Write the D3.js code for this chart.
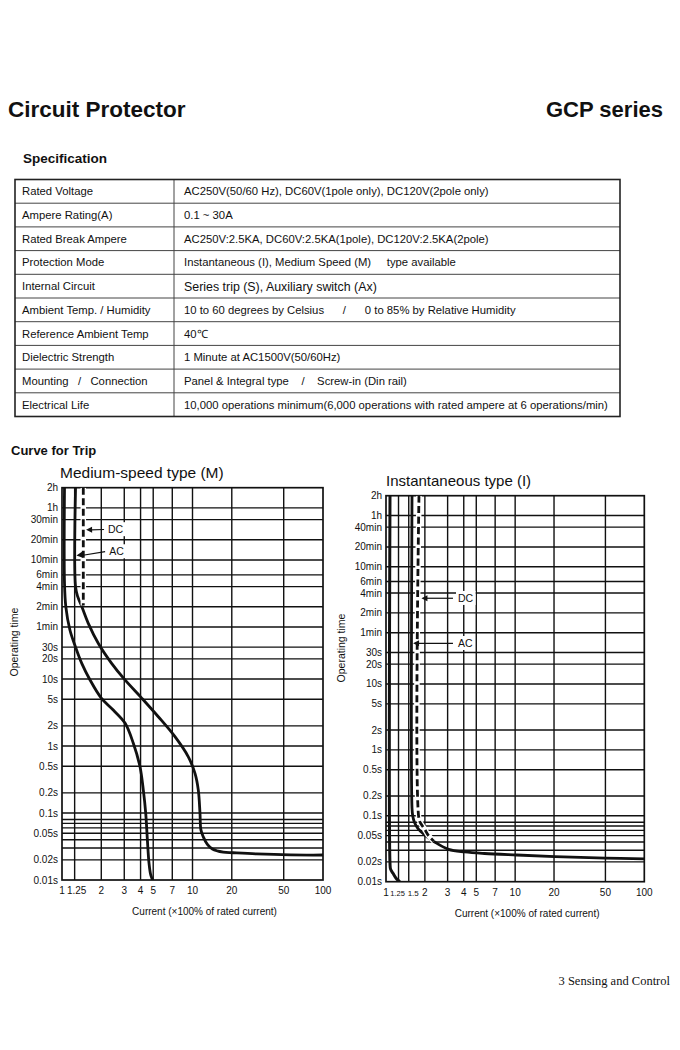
<!DOCTYPE html>
<html>
<head>
<meta charset="utf-8">
<script src="https://cdn.jsdelivr.net/npm/d3@7"></script>
<style>
body { margin: 0; background: #fff; }
text { font-family: "Liberation Sans", Arial, sans-serif; fill: #111; }
</style>
</head>
<body>
<div id="canvas"></div>
<script>
// ---- spec table ----
const specLabels = ["Rated Voltage", "Ampere Rating(A)", "Rated Break Ampere", "Protection Mode",
    "Internal Circuit", "Ambient Temp. / Humidity", "Reference Ambient Temp", "Dielectric Strength",
    "Mounting   /   Connection", "Electrical Life"];
const specValues = ["AC250V(50/60 Hz), DC60V(1pole only), DC120V(2pole only)",
    "0.1 ~ 30A",
    "AC250V:2.5KA, DC60V:2.5KA(1pole), DC120V:2.5KA(2pole)",
    "Instantaneous (I), Medium Speed (M)     type available",
    "Series trip (S), Auxiliary switch (Ax)",
    "10 to 60 degrees by Celsius      /      0 to 85% by Relative Humidity",
    "40\u2103",
    "1 Minute at AC1500V(50/60Hz)",
    "Panel & Integral type    /    Screw-in (Din rail)",
    "10,000 operations minimum(6,000 operations with rated ampere at 6 operations/min)"];

// ---- trip curve axes (seconds, x rated current) ----
const yTickSec = [7200, 3600, 2400, 1200, 600, 360, 240, 120, 60, 30, 20, 10, 5, 2, 1, 0.5, 0.2, 0.1, 0.05, 0.02, 0.01];
const yLabelsMed = ["2h", "1h", "30min", "20min", "10min", "6min", "4min", "2min", "1min", "30s", "20s", "10s", "5s", "2s", "1s", "0.5s", "0.2s", "0.1s", "0.05s", "0.02s", "0.01s"];
const yLabelsInst = ["2h", "1h", "40min", "20min", "10min", "6min", "4min", "2min", "1min", "30s", "20s", "10s", "5s", "2s", "1s", "0.5s", "0.2s", "0.1s", "0.05s", "0.02s", "0.01s"];
const yMinorSec = [0.08, 0.07, 0.06, 0.04, 0.03];
const xTicksMed = [1, 1.25, 2, 3, 4, 5, 7, 10, 20, 50, 100];
const xTicksInst = [1, 1.25, 1.5, 2, 3, 4, 5, 7, 10, 20, 50, 100];

// medium-speed curves [current, seconds]
const medLower = [[1.045, 7200], [1.045, 270], [1.07, 120], [1.15, 54], [1.27, 30], [1.42, 17], [1.64, 9.7],
    [2.0, 5.2], [2.47, 3.45], [3.04, 2.2], [3.52, 1.1], [3.96, 0.49], [4.2, 0.22], [4.38, 0.1],
    [4.51, 0.04], [4.64, 0.018], [4.78, 0.012], [4.95, 0.01]];
const medAC = [[1.27, 7200], [1.27, 240], [1.32, 170], [1.42, 120], [1.59, 68], [1.9, 34], [2.4, 17.2],
    [3.04, 9.7], [4.08, 5.2], [5.47, 2.74], [7.34, 1.38], [9.29, 0.69], [10.45, 0.39], [11.08, 0.22],
    [11.41, 0.1], [11.6, 0.056], [12.1, 0.044], [13, 0.034], [14.2, 0.029], [17.2, 0.026],
    [20.5, 0.0255], [31, 0.0245], [56, 0.0237], [100, 0.0236]];
const medDC = [[1.456, 7200], [1.456, 125]];

// instantaneous curves
const instLower = [[1.074, 7200], [1.074, 0.019], [1.085, 0.0155], [1.133, 0.0134], [1.2, 0.0112], [1.28, 0.01]];
const instAC = [[1.59, 7200], [1.59, 0.13], [1.61, 0.1], [1.66, 0.08], [1.76, 0.065], [2.0, 0.051],
    [2.38, 0.04], [3.05, 0.031], [4.07, 0.0283], [5.8, 0.0268], [10.3, 0.0254], [20.3, 0.024],
    [50, 0.0228], [100, 0.0222]];
const instDC = [[1.8, 7200], [1.8, 0.09], [1.87, 0.075], [2.0, 0.062], [2.12, 0.051], [2.35, 0.041]];

const svg = d3.select("#canvas").append("svg")
    .attr("width", 680)
    .attr("height", 1050);

// ---- headings ----
svg.append("text").attr("x", 8).attr("y", 117)
    .style("font-size", "22.5px").style("font-weight", "bold").text("Circuit Protector");
svg.append("text").attr("x", 663).attr("y", 117).attr("text-anchor", "end")
    .style("font-size", "22px").style("font-weight", "bold").text("GCP series");
svg.append("text").attr("x", 23).attr("y", 163)
    .style("font-size", "13.5px").style("font-weight", "bold").text("Specification");

// ---- table ----
const tbl = {x0: 15, x1: 174, x2: 620, top: 179.5, rowH: 23.7};
const rowY = d3.scaleBand().domain(d3.range(specLabels.length))
    .range([tbl.top, tbl.top + tbl.rowH * specLabels.length]);

const rows = svg.append("g");
rows.selectAll("line.row")
    .data(d3.range(1, specLabels.length))
    .enter().append("line")
    .attr("x1", tbl.x0).attr("x2", tbl.x2)
    .attr("y1", d => rowY(d)).attr("y2", d => rowY(d))
    .attr("stroke", "#444").attr("stroke-width", 1);
rows.append("line")
    .attr("x1", tbl.x1).attr("x2", tbl.x1)
    .attr("y1", tbl.top).attr("y2", tbl.top + tbl.rowH * specLabels.length)
    .attr("stroke", "#444").attr("stroke-width", 1);
rows.append("rect")
    .attr("x", tbl.x0).attr("y", tbl.top)
    .attr("width", tbl.x2 - tbl.x0).attr("height", tbl.rowH * specLabels.length)
    .attr("fill", "none").attr("stroke", "#222").attr("stroke-width", 1.6);

rows.selectAll("text.lab")
    .data(specLabels)
    .enter().append("text")
    .attr("x", 22)
    .attr("y", (d, i) => rowY(i) + tbl.rowH / 2 + 4)
    .style("font-size", "11.3px").style("white-space", "pre")
    .text(d => d);
rows.selectAll("text.val")
    .data(specValues)
    .enter().append("text")
    .attr("x", 184)
    .attr("y", (d, i) => rowY(i) + tbl.rowH / 2 + (i === 4 ? 4.5 : 4))
    .style("font-size", (d, i) => i === 4 ? "12.4px" : "11.3px")
    .style("white-space", "pre")
    .text(d => d);

svg.append("text").attr("x", 11).attr("y", 455)
    .style("font-size", "13px").style("font-weight", "bold").text("Curve for Trip");

// ---- trip charts ----
function drawChart(cfg, idx) {
    const x = d3.scaleLog().domain([1, 100]).range([cfg.x0, cfg.x1]);
    const y = d3.scaleLog().domain([7200, 0.01]).range([cfg.y0, cfg.y1]);
    const g = svg.append("g");

    g.append("text").attr("x", cfg.titleX).attr("y", cfg.y0 - 10)
        .style("font-size", cfg.titleSize).text(cfg.title);

    // grid
    g.selectAll("line.vg")
        .data(cfg.xTicks.slice(1, -1))
        .enter().append("line")
        .attr("x1", d => x(d)).attr("x2", d => x(d))
        .attr("y1", cfg.y0).attr("y2", cfg.y1)
        .attr("stroke", "#111").attr("stroke-width", 1.4);
    g.selectAll("line.hg")
        .data(yTickSec.slice(1, -1).concat(yMinorSec))
        .enter().append("line")
        .attr("x1", cfg.x0).attr("x2", cfg.x1)
        .attr("y1", d => y(d)).attr("y2", d => y(d))
        .attr("stroke", "#111").attr("stroke-width", 1.4);
    g.append("rect")
        .attr("x", cfg.x0).attr("y", cfg.y0)
        .attr("width", cfg.x1 - cfg.x0).attr("height", cfg.y1 - cfg.y0)
        .attr("fill", "none").attr("stroke", "#111").attr("stroke-width", 1.7);

    // tick labels
    g.selectAll("text.yl")
        .data(yTickSec)
        .enter().append("text")
        .attr("x", cfg.x0 - 4).attr("y", d => y(d)).attr("dy", "0.35em")
        .attr("text-anchor", "end").style("font-size", "10px")
        .text((d, i) => cfg.yLabels[i]);
    g.selectAll("text.xl")
        .data(cfg.xTicks)
        .enter().append("text")
        .attr("x", d => x(d)).attr("y", cfg.y1 + 14)
        .attr("text-anchor", "middle").style("font-size", "10px")
        .each(function (d) {
            const s = d3.select(this);
            if (cfg.squeeze && d === 1.25) {
                s.attr("dx", -1).style("font-size", "7.5px");
            } else if (cfg.squeeze && d === 1.5) {
                s.attr("dx", 4.5).style("font-size", "8px");
            } else if (!cfg.squeeze && d === 1.25) {
                s.attr("dx", 2);
            }
        })
        .text(d => d);

    // axis titles
    g.append("text")
        .attr("transform", "translate(" + cfg.ytX + "," + cfg.ytY + ") rotate(-90)")
        .attr("text-anchor", "middle").style("font-size", "10.5px")
        .text("Operating time");
    g.append("text")
        .attr("x", (cfg.x0 + cfg.x1) / 2 + cfg.xtShift).attr("y", cfg.y1 + 35)
        .attr("text-anchor", "middle").style("font-size", "10px")
        .text("Current (\u00d7100% of rated current)");

    // curves
    const clipId = "clip" + idx;
    svg.append("clipPath").attr("id", clipId).append("rect")
        .attr("x", cfg.x0).attr("y", cfg.y0)
        .attr("width", cfg.x1 - cfg.x0).attr("height", cfg.y1 - cfg.y0);
    const line = d3.line()
        .x(d => x(d[0])).y(d => y(d[1]))
        .curve(d3.curveCatmullRom.alpha(0.5));
    const cg = g.append("g").attr("clip-path", "url(#" + clipId + ")");
    cfg.curves.forEach(function (c) {
        if (c.dashed) {
            cg.append("path").attr("d", line(c.data))
                .attr("fill", "none").attr("stroke", "#fff").attr("stroke-width", 5.5);
            cg.append("path").attr("d", line(c.data))
                .attr("fill", "none").attr("stroke", "#111").attr("stroke-width", 2.8)
                .attr("stroke-dasharray", "7,3.5");
        } else {
            cg.append("path").attr("d", line(c.data))
                .attr("fill", "none").attr("stroke", "#111")
                .attr("stroke-width", c.w || 2.8).attr("stroke-linejoin", "round");
        }
    });

    // DC / AC call-outs
    cfg.notes.forEach(function (n) {
        const t = g.append("text")
            .attr("x", x(n.at[0])).attr("y", y(n.at[1])).attr("dy", "0.35em")
            .style("font-size", "10.5px").text(n.label);
        const bb = t.node().getBBox();
        g.insert("rect", function () { return t.node(); })
            .attr("x", bb.x - 2).attr("y", bb.y - 1)
            .attr("width", bb.width + 4).attr("height", bb.height + 2)
            .attr("fill", "#fff");
        const x1 = x(n.from[0]), y1 = y(n.from[1]), x2 = x(n.to[0]), y2 = y(n.to[1]);
        g.append("line").attr("x1", x1).attr("y1", y1).attr("x2", x2 + 5).attr("y2", y2)
            .attr("stroke", "#111").attr("stroke-width", 1.2);
        const ang = Math.atan2(y2 - y1, x2 - x1) * 180 / Math.PI;
        g.append("path").attr("d", "M0,0L-6,-3L-6,3Z")
            .attr("transform", "translate(" + x2 + "," + y2 + ") rotate(" + ang + ")")
            .attr("fill", "#111");
    });
}

drawChart({
    x0: 62, x1: 323, y0: 487.7, y1: 880, titleX: 60, titleSize: "15.5px",
    title: "Medium-speed type (M)", xTicks: xTicksMed, yLabels: yLabelsMed,
    ytX: 18, ytY: 642, xtShift: 12,
    curves: [{data: medLower}, {data: medAC}, {data: medDC, dashed: true}],
    notes: [
        {label: "DC", at: [2.25, 1710], from: [2.1, 1710], to: [1.53, 1690]},
        {label: "AC", at: [2.3, 800], from: [2.14, 800], to: [1.29, 700]}
    ]
}, 0);

drawChart({
    x0: 386, x1: 644.3, y0: 495.7, y1: 881.7, titleX: 386, titleSize: "15px",
    title: "Instantaneous type (I)", xTicks: xTicksInst, yLabels: yLabelsInst, squeeze: true,
    ytX: 345, ytY: 648, xtShift: 12,
    curves: [{data: instLower, w: 3}, {data: instAC}, {data: instDC, dashed: true}],
    notes: [
        {label: "DC", at: [3.61, 200], from: [3.3, 200], to: [1.88, 200]},
        {label: "AC", at: [3.61, 41.4], from: [3.3, 41.4], to: [1.62, 41.4]}
    ]
}, 1);

svg.append("text").attr("x", 670).attr("y", 985).attr("text-anchor", "end")
    .style("font-family", "'Liberation Serif', 'Times New Roman', serif")
    .style("font-size", "12.5px").text("3 Sensing and Control");
</script>
</body>
</html>
